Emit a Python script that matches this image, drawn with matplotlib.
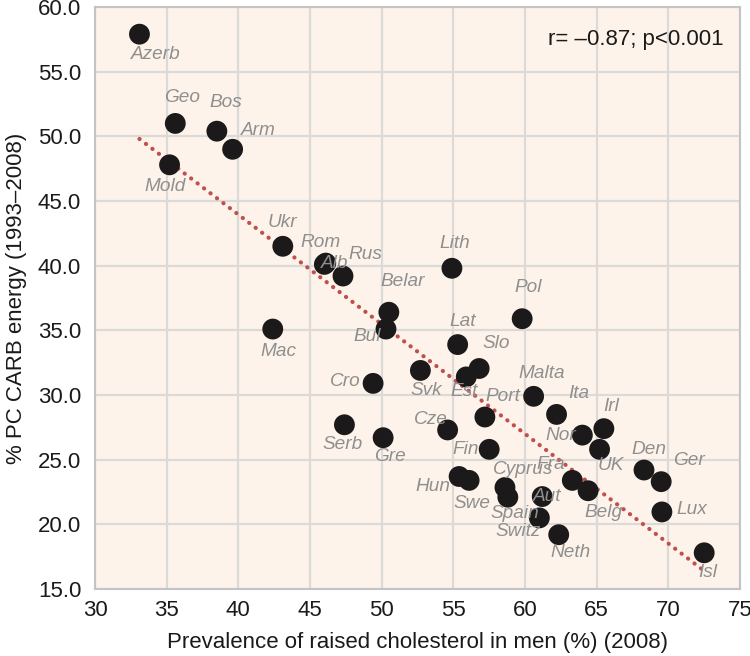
"""
plot.py

scatter of carbohydrate energy share against raised cholesterol in men,
one dot per country, with a dotted trend line
"""
import matplotlib
matplotlib.use('Agg')
import matplotlib.pyplot as plt

# data ------------------------------------------------------------------------
countries = ['Azerb', 'Geo', 'Bos', 'Arm', 'Mold', 'Ukr', 'Rom', 'Alb', 'Rus',
             'Mac', 'Belar', 'Bul', 'Lith', 'Pol', 'Lat', 'Slo', 'Est', 'Svk',
             'Cro', 'Malta', 'Port', 'Ita', 'Serb', 'Gre', 'Cze', 'Fin', 'Irl',
             'Nor', 'UK', 'Den', 'Ger', 'Hun', 'Swe', 'Cyprus', 'Spain', 'Aut',
             'Fra', 'Belg', 'Lux', 'Switz', 'Neth', 'Isl']
cholesterol = [33.1, 35.6, 38.5, 39.6, 35.2, 43.1, 46.1, 46.0, 47.3,
               42.4, 50.5, 50.3, 54.9, 59.8, 55.3, 56.8, 55.9, 52.7,
               49.4, 60.6, 57.2, 62.2, 47.4, 50.1, 54.6, 57.5, 65.5,
               64.0, 65.2, 68.3, 69.5, 55.4, 56.1, 58.6, 58.8, 61.2,
               63.3, 64.4, 69.55, 61.0, 62.35, 72.5]
carb_energy = [57.9, 51.0, 50.4, 49.0, 47.8, 41.5, 40.2, 40.1, 39.2,
               35.1, 36.4, 35.1, 39.8, 35.9, 33.9, 32.05, 31.4, 31.9,
               30.9, 29.9, 28.3, 28.5, 27.7, 26.7, 27.3, 25.8, 27.4,
               26.9, 25.8, 24.2, 23.3, 23.7, 23.4, 22.85, 22.1, 22.15,
               23.4, 22.6, 20.96, 20.5, 19.2, 17.8]

trend_x = [33.1, 72.5]
trend_y = [49.8, 16.4]

x_ticks = [30, 35, 40, 45, 50, 55, 60, 65, 70, 75]
y_ticks = [15.0, 20.0, 25.0, 30.0, 35.0, 40.0, 45.0, 50.0, 55.0, 60.0]

stat_text = 'r= \u20130.87; p<0.001'
x_title = 'Prevalence of raised cholesterol in men (%) (2008)'
y_title = '% PC CARB energy (1993\u20132008)'

# where each name sits relative to its dot, pixels (right, up)
label_offsets = {
    'Azerb': (16, -20), 'Geo': (7, 26), 'Bos': (9, 29), 'Arm': (26, 19),
    'Mold': (-4, -22), 'Ukr': (0, 24), 'Rom': (-5, 21), 'Alb': (10, 1),
    'Rus': (22, 22), 'Mac': (6, -22), 'Belar': (14, 31), 'Bul': (-19, -7),
    'Lith': (3, 25), 'Pol': (6, 31), 'Lat': (5, 23), 'Slo': (17, 25),
    'Est': (-2, -15), 'Svk': (6, -20), 'Cro': (-28, 2), 'Malta': (8, 23),
    'Port': (18, 21), 'Ita': (22, 21), 'Serb': (-2, -20), 'Gre': (7, -19),
    'Cze': (-17, 10), 'Fin': (-24, 0), 'Irl': (7, 22), 'Nor': (-22, 0),
    'UK': (11, -16), 'Den': (5, 21), 'Ger': (28, 21), 'Hun': (-26, -10),
    'Swe': (3, -23), 'Cyprus': (18, 18), 'Spain': (7, -16), 'Aut': (5, 0),
    'Fra': (-22, 16), 'Belg': (15, -22), 'Lux': (30, 2), 'Switz': (-21, -14),
    'Neth': (12, -18), 'Isl': (4, -20),
}

# style -----------------------------------------------------------------------
plt.rcParams['font.family'] = ['Liberation Sans', 'DejaVu Sans']
panel = '#fdf3ea'
grid = '#dcdad8'
edge = '#c4c4c4'
dot = '#1b1919'
trend = '#c0504d'
name_grey = '#8f8f8f'


def setup_fig():
    """
    set-up the figure and the axes with the peach panel and grey grid
    """
    fig = plt.figure(figsize=(7.5, 6.56), dpi=100)
    ax = fig.add_axes([0.1267, 0.1021, 0.86, 0.8872])
    ax.set_facecolor(panel)
    ax.set_xlim(30, 75)
    ax.set_ylim(15, 60)
    ax.set_xticks(x_ticks)
    ax.set_yticks(y_ticks)
    ax.set_xticklabels([str(t) for t in x_ticks])
    ax.set_yticklabels(['%.1f' % t for t in y_ticks])
    ax.tick_params(length=0, labelsize=16, colors='#1a1a1a')
    ax.tick_params(axis='y', pad=10)
    ax.tick_params(axis='x', pad=8)
    ax.grid(True, color=grid, linewidth=1.6)
    ax.set_axisbelow(True)
    for side in ax.spines.values():
        side.set_color(edge)
        side.set_linewidth(1.5)
    ax.set_xlabel(x_title, fontsize=16, color='#1a1a1a', labelpad=8)
    ax.set_ylabel(y_title, fontsize=16, color='#1a1a1a', labelpad=8)
    return fig, ax


def add_points(ax):
    """
    add the trend line, the dots and the country names
    """
    ax.plot(trend_x, trend_y, color=trend, linewidth=3.0,
            linestyle=(0, (0.05, 1.9)), dash_capstyle='round', zorder=2)
    ax.scatter(cholesterol, carb_energy, s=225, color=dot,
               edgecolors='none', zorder=3)
    for name, x, y in zip(countries, cholesterol, carb_energy):
        ax.annotate(name, xy=(x, y), xytext=label_offsets[name],
                    textcoords='offset pixels', ha='center', va='center',
                    fontsize=13.7, style='italic', color=name_grey, zorder=4)
    ax.text(0.975, 0.945, stat_text, transform=ax.transAxes,
            ha='right', va='center', fontsize=16, color='#1a1a1a')


fig, ax = setup_fig()
add_points(ax)
fig.savefig('out.png', dpi=100)
